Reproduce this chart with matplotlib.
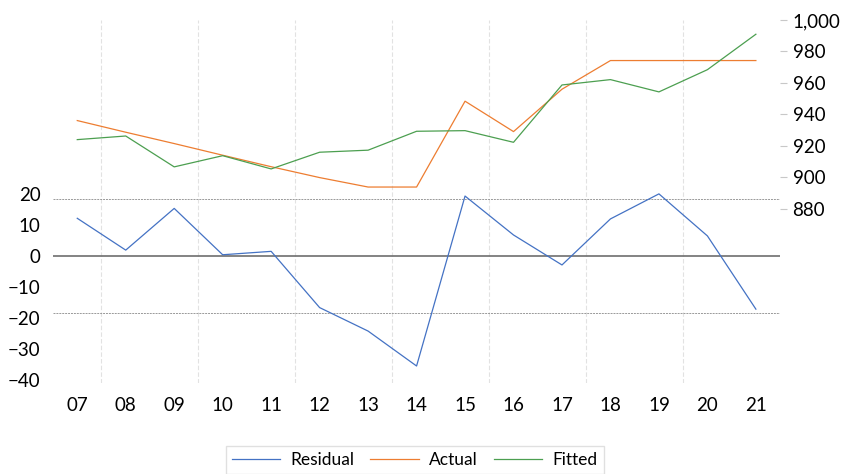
"""Residual / actual / fitted chart."""

import matplotlib

matplotlib.use("Agg")
import matplotlib.pyplot as plt
from matplotlib.ticker import FuncFormatter

years = ["07", "08", "09", "10", "11", "12", "13", "14",
         "15", "16", "17", "18", "19", "20", "21"]
actual = [936.1, 928.7, 921.5, 914.1, 906.8, 899.9, 893.9, 893.9,
          948.4, 929.1, 956.0, 974.2, 974.2, 974.2, 974.2]
fitted = [924.0, 926.3, 906.7, 913.8, 905.4, 916.0, 917.3, 929.3,
          929.7, 922.3, 958.7, 962.1, 954.3, 968.4, 990.9]
residual = [12.2, 1.9, 15.4, 0.4, 1.5, -16.7, -24.3, -35.6,
            19.4, 6.8, -2.9, 12.0, 20.1, 6.5, -17.2]
resid_ticks = [20, 10, 0, -10, -20, -30, -40]
level_ticks = [880, 900, 920, 940, 960, 980, 1000]
std_band = 18.5

BLUE = "#4472C4"
ORANGE = "#ED7D31"
GREEN = "#4C9F50"

plt.rcParams["font.family"] = ["Lato", "DejaVu Sans"]

fig = plt.figure(figsize=(8.43, 4.74), dpi=100)
ax = fig.add_axes([0.0629, 0.192, 0.8625, 0.766])
ax2 = ax.twinx()

x = list(range(len(years)))

# residual panel on the left axis
for xv in [0.5, 2.5, 4.5, 6.5, 8.5, 10.5, 12.5]:
    ax.axvline(xv, color="#E2E2E2", lw=0.8, ls=(0, (4, 2)), zorder=0)
ax.axhline(0, color="#6E6E6E", lw=1.2, zorder=1)
ax.axhline(std_band, color="#999999", lw=0.7, ls=(0, (2, 1)), zorder=1)
ax.axhline(-std_band, color="#999999", lw=0.7, ls=(0, (2, 1)), zorder=1)
(l_res,) = ax.plot(x, residual, color=BLUE, lw=0.9, label="Residual", zorder=3)

ax.set_xlim(-0.5, 14.5)
ax.set_ylim(-41.1, 76.4)
ax.set_yticks(resid_ticks)
ax.set_xticks(x)
ax.set_xticklabels(years)
ax.tick_params(axis="y", length=0, pad=9, labelsize=13.5)
ax.tick_params(axis="x", length=0, pad=10, labelsize=13.5)

# actual / fitted on the right axis
(l_act,) = ax2.plot(x, actual, color=ORANGE, lw=0.9, label="Actual", zorder=3)
(l_fit,) = ax2.plot(x, fitted, color=GREEN, lw=0.9, label="Fitted", zorder=3)
ax2.set_ylim(769.5, 1000)
ax2.set_yticks(level_ticks)
ax2.yaxis.set_major_formatter(FuncFormatter(lambda v, _: f"{v:,.0f}"))
ax2.tick_params(axis="y", length=5, width=0.8, color="#C8C8C8",
                pad=4, labelsize=13.5)

for a in (ax, ax2):
    for spine in a.spines.values():
        spine.set_visible(False)

fig.legend(
    [l_res, l_act, l_fit],
    ["Residual", "Actual", "Fitted"],
    loc="upper center",
    bbox_to_anchor=(0.492, 0.078),
    ncol=3,
    frameon=True,
    fancybox=False,
    edgecolor="#D9D9D9",
    fontsize=12.5,
    handlelength=2.8,
    handletextpad=0.6,
    columnspacing=0.9,
    borderpad=0.35,
)

fig.savefig("out.png", dpi=100)
